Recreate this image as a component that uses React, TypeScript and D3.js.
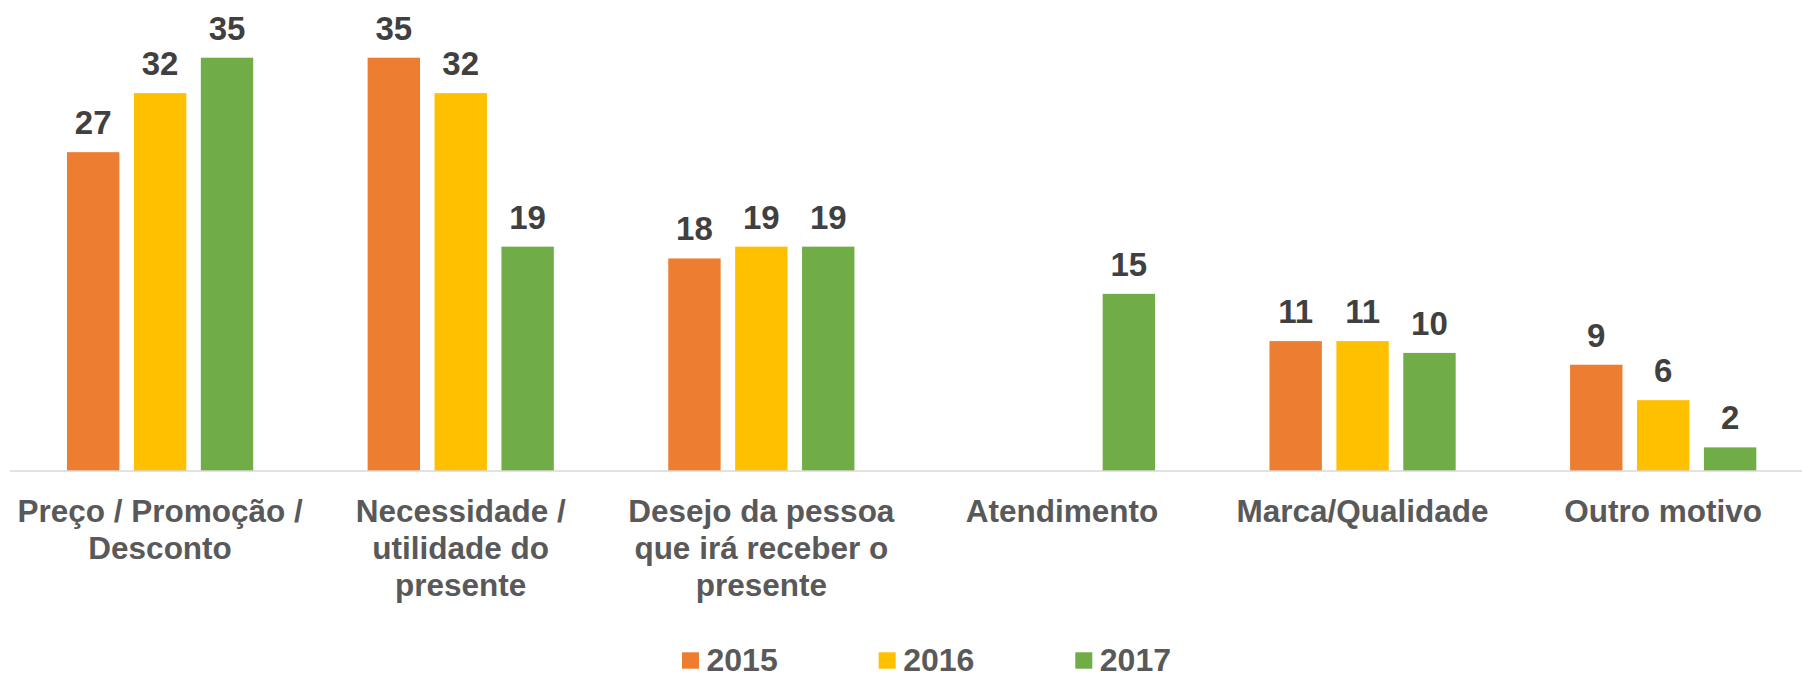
import React from 'react';
import * as d3 from 'd3';

const categories = [
    'Preço / Promoção / Desconto',
    'Necessidade / utilidade do presente',
    'Desejo da pessoa que irá receber o presente',
    'Atendimento',
    'Marca/Qualidade',
    'Outro motivo'
];

// line breaks as in the original axis labels
const categoryLines = [
    ['Preço / Promoção /', 'Desconto'],
    ['Necessidade /', 'utilidade do', 'presente'],
    ['Desejo da pessoa', 'que irá receber o', 'presente'],
    ['Atendimento'],
    ['Marca/Qualidade'],
    ['Outro motivo']
];

const years = ['2015', '2016', '2017'];
const values2015 = [27, 35, 18, null, 11, 9];
const values2016 = [32, 32, 19, null, 11, 6];
const values2017 = [35, 19, 19, 15, 10, 2];
const seriesValues = [values2015, values2016, values2017];
const colors = ['#ED7D31', '#FFC000', '#70AD47'];

export default function App() {
    const width = 1802, height = 673;
    const baseY = 471;
    const font = '"Liberation Sans", Arial, sans-serif';

    const x = d3.scaleBand().domain(categories).range([9.8, 1813.5]);
    const groupW = 186.2;
    const xInner = d3.scaleBand().domain(years).range([-groupW / 2, groupW / 2]).paddingInner(0.217);
    const y = d3.scaleLinear().domain([0, 35]).range([baseY, 57.7]);

    const legendX = d3.scalePoint().domain(years).range([682, 1075.3]);

    return (
        <svg width={width} height={height} style={{ position: 'absolute', left: 0, top: 0, background: '#fff' }}
            fontFamily={font}>
            {/* bars + value labels */}
            {years.map((yr, si) => (
                <g key={yr}>
                    {categories.map((cat, ci) => {
                        const v = seriesValues[si][ci];
                        if (v === null || v === undefined) return null;
                        const cx = x(cat)! + x.bandwidth() / 2;
                        const bx = cx + xInner(yr)!;
                        return (
                            <g key={cat}>
                                <rect x={bx} y={y(v)} width={xInner.bandwidth()} height={baseY - y(v)}
                                    fill={colors[si]} />
                                <text x={bx + xInner.bandwidth() / 2} y={y(v) - 18} textAnchor="middle"
                                    fontSize={33} fontWeight="bold" fill="#404040">{v}</text>
                            </g>
                        );
                    })}
                </g>
            ))}

            {/* axis line */}
            <line x1={10} x2={width} y1={baseY} y2={baseY} stroke="#D9D9D9" strokeWidth={1.5} />

            {/* category labels */}
            {categories.map((cat, ci) => (
                <text key={cat} x={x(cat)! + x.bandwidth() / 2} y={521.7} textAnchor="middle"
                    fontSize={31.5} fontWeight="bold" fill="#595959">
                    {categoryLines[ci].map((line, li) => (
                        <tspan key={li} x={x(cat)! + x.bandwidth() / 2} dy={li === 0 ? 0 : 37}>{line}</tspan>
                    ))}
                </text>
            ))}

            {/* legend */}
            {years.map((yr, i) => (
                <g key={yr} transform={`translate(${legendX(yr)}, 0)`}>
                    <rect x={0} y={652.3} width={17} height={16.4} fill={colors[i]} />
                    <text x={24.5} y={670.7} fontSize={32} fontWeight="bold" fill="#595959">{yr}</text>
                </g>
            ))}
        </svg>
    );
}
